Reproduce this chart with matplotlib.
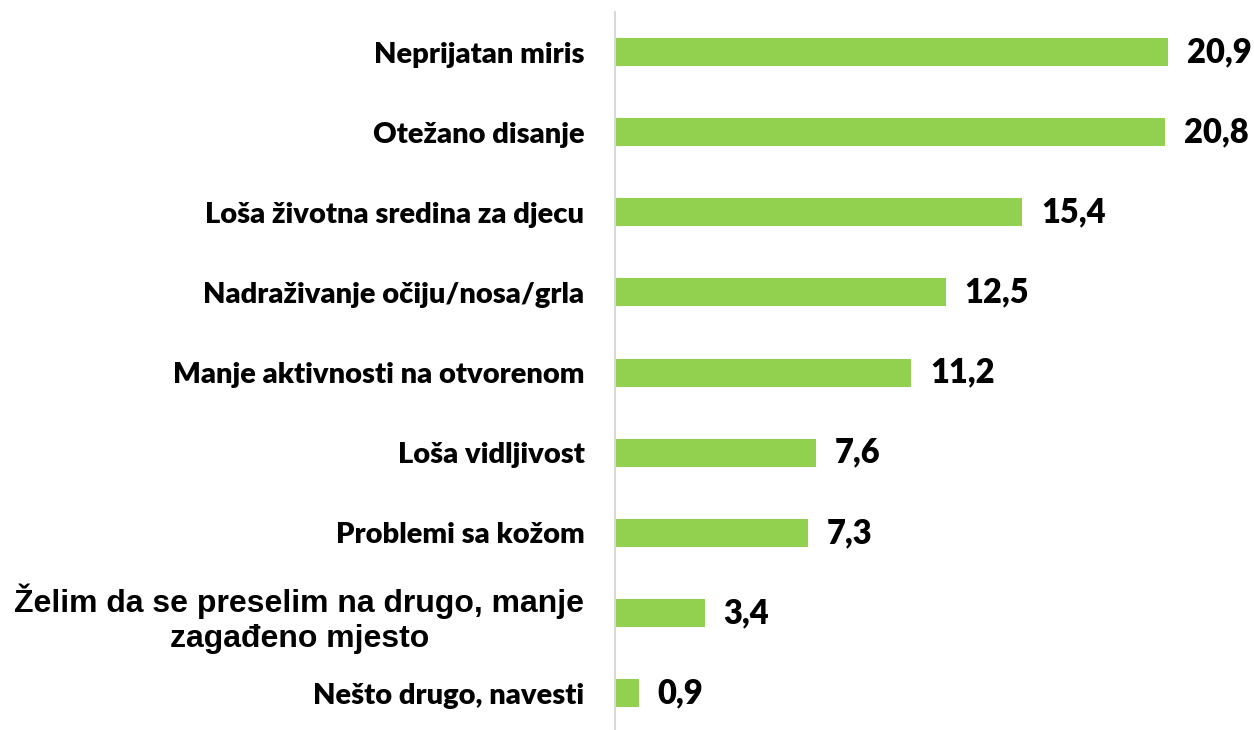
import matplotlib.pyplot as plt

categories = ['Neprijatan miris', 'Otežano disanje', 'Loša životna sredina za djecu',
              'Nadraživanje očiju/nosa/grla', 'Manje aktivnosti na otvorenom',
              'Loša vidljivost', 'Problemi sa kožom',
              'Želim da se preselim na drugo, manje\nzagađeno mjesto', 'Nešto drugo, navesti']
values = [20.9, 20.8, 15.4, 12.5, 11.2, 7.6, 7.3, 3.4, 0.9]
value_labels = ['20,9', '20,8', '15,4', '12,5', '11,2', '7,6', '7,3', '3,4', '0,9']

fig = plt.figure(figsize=(12.54, 7.3), dpi=100)
ax = fig.add_axes([615 / 1254, 0, 639 / 1254, 718 / 730])

pos = list(range(len(categories)))
ax.barh(pos, values, height=0.35, color='#92D050')
ax.set_xlim(0, 639 / 26.46)
ax.set_ylim(8.46, -0.5)

for i, (v, lab) in enumerate(zip(values, value_labels)):
    ax.text(v + 0.7, i, lab, va='center', ha='left', fontsize=23.5,
            fontweight='heavy', family='Lato')

ax.set_yticks(pos)
ax.set_yticklabels(categories)
for i, t in enumerate(ax.get_yticklabels()):
    if i == 7:
        t.set_family('Liberation Sans')
        t.set_fontsize(23)
        t.set_multialignment('center')
        t.set_fontweight('bold')
    else:
        t.set_family('Lato')
        t.set_fontsize(21)
        t.set_fontweight('heavy')
ax.tick_params(axis='y', length=0, pad=22)
ax.set_xticks([])

for s in ['top', 'right', 'bottom']:
    ax.spines[s].set_visible(False)
ax.spines['left'].set_color('#D9D9D9')
ax.spines['left'].set_linewidth(1.5)

fig.savefig('out.png', dpi=100)
